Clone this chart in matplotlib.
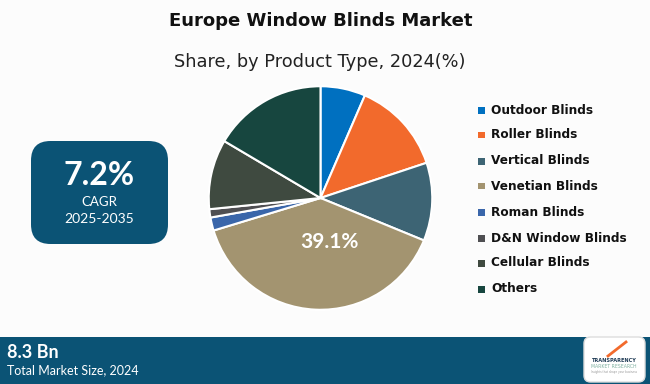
import matplotlib.pyplot as plt
from matplotlib.patches import FancyBboxPatch, Rectangle

categories = [
    "Outdoor Blinds",
    "Roller Blinds",
    "Vertical Blinds",
    "Venetian Blinds",
    "Roman Blinds",
    "D&N Window Blinds",
    "Cellular Blinds",
    "Others",
]
shares = [6.5, 13.4, 11.3, 39.1, 1.9, 1.2, 10.1, 16.5]
colors = ["#0070C0", "#F26A2C", "#3D6474", "#A39470",
          "#3A66AA", "#4F4F52", "#3F4A40", "#17463F"]
highlight = "39.1%"

W, H = 650, 384
BG = "#FCFCFC"
NAVY = "#0B5375"

fig = plt.figure(figsize=(W / 100, H / 100), dpi=100, facecolor=BG)


def fx(px):
    return px / W


def fy(py):
    return 1 - py / H


# titles
fig.text(fx(321), fy(21), "Europe Window Blinds Market", ha="center", va="center",
         fontsize=13, fontweight="bold", family="DejaVu Sans", color="#111111")
fig.text(fx(320), fy(62), "Share, by Product Type, 2024(%)", ha="center", va="center",
         fontsize=12.8, family="DejaVu Sans", color="#222222")

# pie
ax = fig.add_axes([fx(206), fy(312), fx(229), 228 / H])
ax.pie(shares, colors=colors, startangle=90, counterclock=False,
       wedgeprops=dict(edgecolor="white", linewidth=1.5))
ax.set_xlim(-1.02, 1.02)
ax.set_ylim(-1.02, 1.02)
ax.set_aspect("equal")
ax.axis("off")
fig.text(fx(329), fy(242), highlight, ha="center", va="center", fontsize=15,
         fontweight="bold", family="Lato", color="white")

# legend
row_y = [110, 135, 161, 186, 212, 238, 263, 289]
for name, col, y in zip(categories, colors, row_y):
    fig.patches.append(Rectangle((fx(478), fy(y + 3.5)), fx(7), 7 / H,
                                 transform=fig.transFigure, facecolor=col,
                                 edgecolor="none"))
    fig.text(fx(491), fy(y), name, ha="left", va="center", fontsize=8.7,
             fontweight="bold", family="DejaVu Sans", color="#111111")

# CAGR box
fig.patches.append(FancyBboxPatch((fx(31), fy(244)), fx(137), 103 / H,
                                  boxstyle="round,pad=0,rounding_size=0.03",
                                  transform=fig.transFigure, facecolor=NAVY,
                                  edgecolor="none", mutation_aspect=W / H))
fig.text(fx(99), fy(176), "7.2%", ha="center", va="center", fontsize=23,
         fontweight="bold", family="Lato", color="white")
fig.text(fx(99), fy(202), "CAGR", ha="center", va="center", fontsize=9.5,
         family="Lato", color="white")
fig.text(fx(99), fy(219), "2025-2035", ha="center", va="center", fontsize=10,
         family="Lato", color="white")

# bottom band
fig.patches.append(Rectangle((0, 0), 1, 47 / H, transform=fig.transFigure,
                             facecolor=NAVY, edgecolor="none"))
fig.text(fx(7), fy(353), "8.3 Bn", ha="left", va="center", fontsize=13,
         fontweight="bold", family="Lato", color="white")
fig.text(fx(7), fy(370), "Total Market Size, 2024", ha="left", va="center",
         fontsize=9, family="Lato", color="white")

# logo
fig.patches.append(FancyBboxPatch((fx(584), fy(382)), fx(61), 45 / H,
                                  boxstyle="round,pad=0,rounding_size=0.01",
                                  transform=fig.transFigure, facecolor="white",
                                  edgecolor="#DDDDDD", mutation_aspect=W / H))
fig.text(fx(614), fy(361), "TRANSPARENCY", ha="center", va="center",
         fontsize=3.6, fontweight="bold", color="#1F3B55")
fig.text(fx(614), fy(367), "MARKET RESEARCH", ha="center", va="center",
         fontsize=3.3, color="#7FB0A0")
fig.text(fx(614), fy(372), "Insights that shape your business", ha="center",
         va="center", fontsize=2, color="#999999")
fig.add_artist(plt.Line2D([fx(608), fx(626)], [fy(356), fy(342)],
                          transform=fig.transFigure, color="#F26A2C", lw=2))

fig.savefig("out.png", dpi=100, facecolor=BG)
